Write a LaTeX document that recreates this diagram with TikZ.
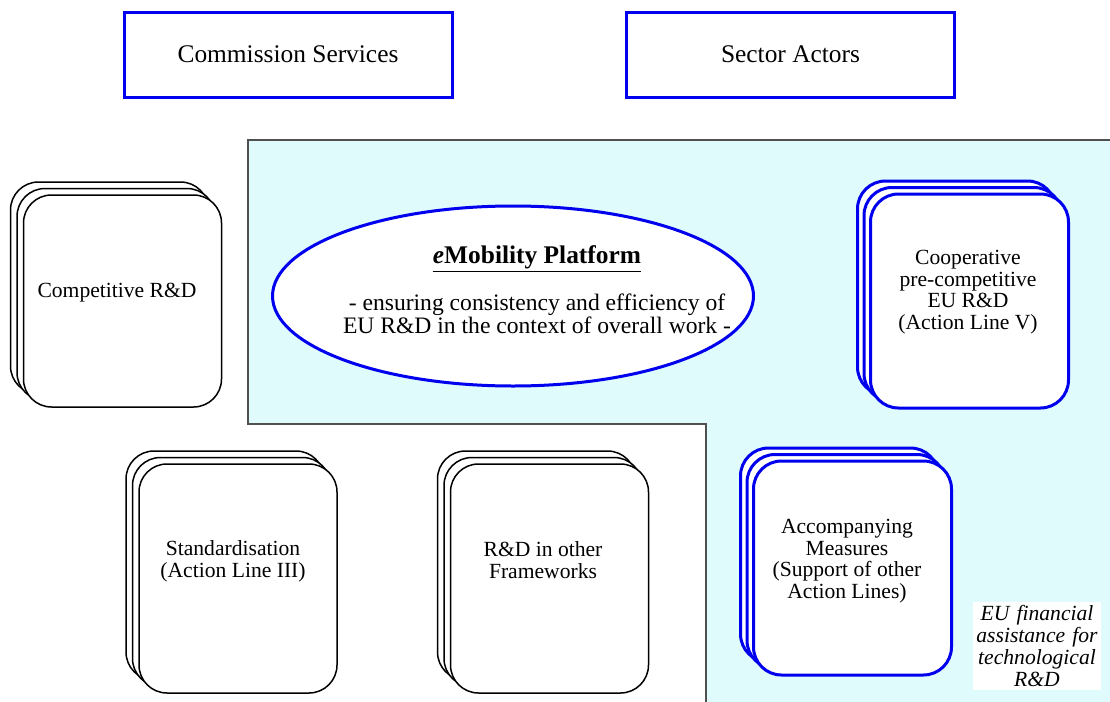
\documentclass[tikz,border=0pt]{standalone}
\usepackage{fontspec}
\setmainfont{Liberation Serif}
\usetikzlibrary{positioning,shapes.geometric,shadows}
\definecolor{lineblue}{HTML}{0000EE}
\definecolor{areacyan}{HTML}{DFFBFB}
\definecolor{areaedge}{HTML}{505050}
\tikzset{
  actor/.style={draw=lineblue,line width=1.5pt,fill=white,minimum width=164pt,minimum height=42.5pt,font=\fontsize{12.7}{15}\selectfont},
  pile/.style 2 args={draw=#1,line width=#2,fill=white,rounded corners=14pt,minimum width=99pt,
    copy shadow={shadow xshift=-6.5pt,shadow yshift=6.5pt,draw=#1,line width=#2},
    copy shadow={shadow xshift=-3.25pt,shadow yshift=3.25pt,draw=#1,line width=#2}},
  stacktext/.style={align=center,font=\fontsize{10.8}{10.85}\selectfont},
  hub/.style={ellipse,draw=lineblue,line width=1.5pt,fill=white,minimum width=240.5pt,minimum height=90pt},
  hubtitle/.style={font=\bfseries\fontsize{12.7}{15}\selectfont},
  hubtext/.style={align=center,font=\fontsize{11.8}{11.2}\selectfont},
  notebox/.style={fill=white,text width=62pt,inner xsep=1pt,inner ysep=1.5pt,align=center,font=\itshape\fontsize{10.8}{11}\selectfont}
}

\begin{document}
\begin{tikzpicture}[x=0.5pt,y=-0.5pt]
\path[use as bounding box] (0,0) rectangle (1110,702);
% shaded area of EU funded work
\fill[areacyan] (248,140) -- (1110,140) -- (1110,702) -- (706,702) -- (706,424) -- (248,424) -- cycle;
\draw[areaedge,line width=0.75pt] (1110,140) -- (248,140) -- (248,424) -- (706,424) -- (706,702);
% actors on top
\node[actor] (commission) at (288,54.5) {Commission Services};
\node[actor] (sector) at (790.5,54.5) {Sector Actors};
% the platform
\node[hub] (platform) at (513,296) {};
\node[hubtitle] (ptitle) at (537,259) {\underline{\textit{e}Mobility Platform}};
\node[hubtext] (ptext) at (537,314) {- ensuring consistency and efficiency of\\EU R\&D in the context of overall work -};
% stacked R&D strands
\foreach \n/\x/\y/\h/\tx/\ty/\txt in {
comp/122.5/301/212/117/293/{Competitive R\&D},
std/238/578.5/229/233/561/{Standardisation\\(Action Line III)},
other/549.5/578.5/229/543/560/{R\&D in other\\Frameworks}}
{
\node[pile={black}{0.75pt},minimum height=\h*0.5pt] (\n) at (\x,\y) {};
\node[stacktext] (\n-txt) at (\tx,\ty) {\txt};
}
\foreach \n/\x/\y/\h/\tx/\ty/\txt in {
coop/969.5/301/214/968/292/{Cooperative\\pre-competitive\\EU R\&D\\(Action Line V)},
acc/852.5/568/214/847/561/{Accompanying\\Measures\\(Support of other\\Action Lines)}}
{
\node[pile={lineblue}{1.5pt},minimum height=\h*0.5pt] (\n) at (\x,\y) {};
\node[stacktext] (\n-txt) at (\tx,\ty) {\txt};
}
\node[notebox] (funding) at (1037,646) {EU financial\\assistance for\\technological\\R\&D};
\end{tikzpicture}
\end{document}
